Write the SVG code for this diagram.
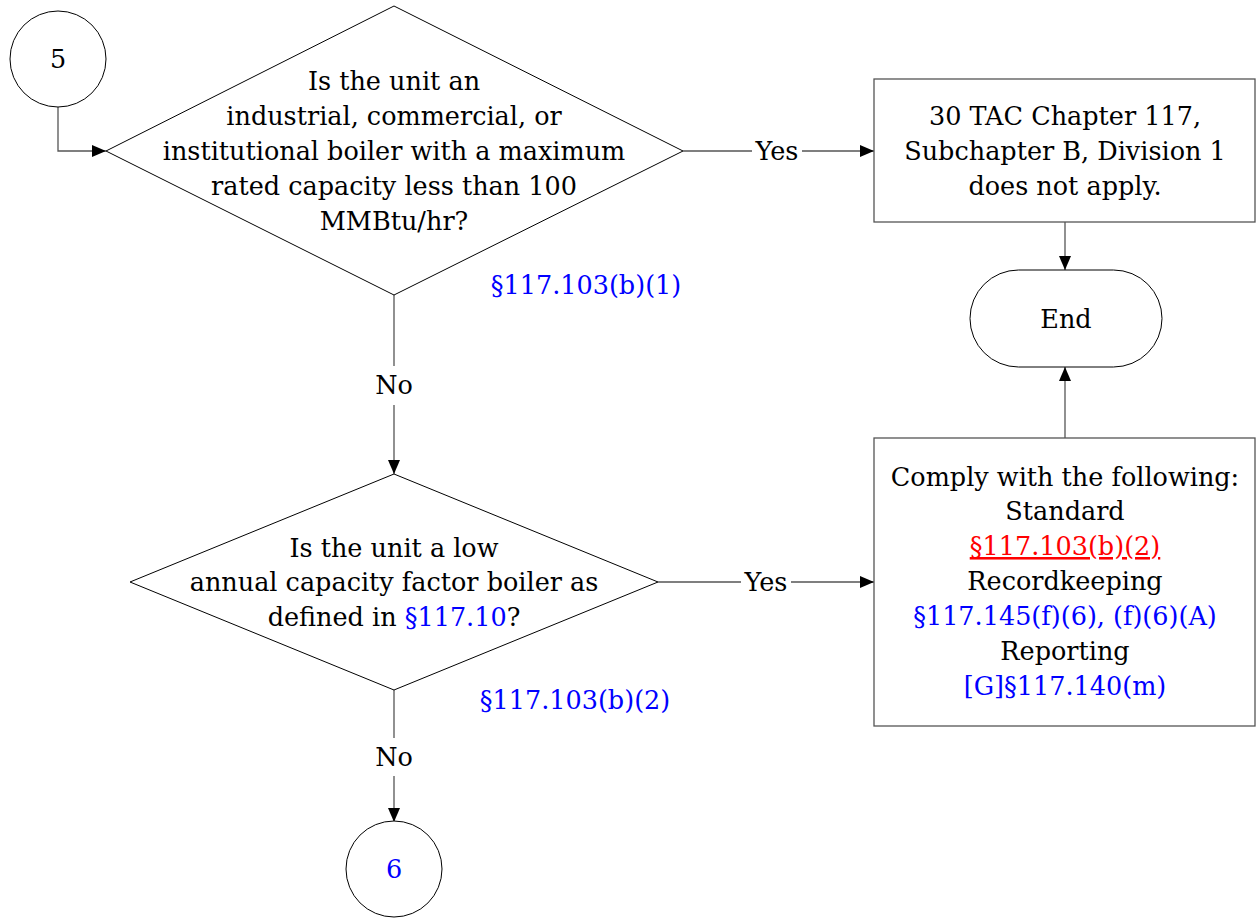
<svg xmlns="http://www.w3.org/2000/svg" width="1256" height="918" viewBox="0 0 1256 918">
<style>
.s{fill:#fff;stroke:#000;stroke-width:1}
.b{fill:#fff;stroke:#555;stroke-width:1.3}
.c{fill:none;stroke:#555;stroke-width:1.3}
text{font-family:"DejaVu Serif","Liberation Serif",serif;font-size:25.5px;fill:#000;text-anchor:middle}
.bl{fill:#0000ff}
.rd{fill:#ff0000;text-decoration:underline}
</style>
<defs>
<marker id="ah" markerWidth="14" markerHeight="12" refX="14" refY="6" orient="auto" markerUnits="userSpaceOnUse">
<path d="M0,0 L14,6 L0,12 Z" fill="#000"/>
</marker>
</defs>
<rect width="1256" height="918" fill="#fff"/>
<g id="connectors">
<path class="c" d="M58,107 V151 H106" marker-end="url(#ah)"/>
<path class="c" d="M683,151 H752"/>
<path class="c" d="M802,151 H874" marker-end="url(#ah)"/>
<path class="c" d="M1065,222 V270" marker-end="url(#ah)"/>
<path class="c" d="M1065,438 V367" marker-end="url(#ah)"/>
<path class="c" d="M394,295 V366"/>
<path class="c" d="M394,405 V474" marker-end="url(#ah)"/>
<path class="c" d="M658,582 H741"/>
<path class="c" d="M791,582 H874" marker-end="url(#ah)"/>
<path class="c" d="M394,690 V738"/>
<path class="c" d="M394,776 V822" marker-end="url(#ah)"/>
<text x="777" y="160">Yes</text>
<text x="766" y="591">Yes</text>
<text x="394" y="394">No</text>
<text x="394" y="766">No</text>
</g>
<g id="start5">
<circle class="s" cx="58" cy="59" r="48"/>
<text x="58" y="68">5</text>
</g>
<g id="decision1">
<polygon class="s" points="394,6 683,151 394,295 106,151"/>
<text x="394" y="90">Is the unit an</text>
<text x="394" y="125">industrial, commercial, or</text>
<text x="394" y="160">institutional boiler with a maximum</text>
<text x="394" y="195">rated capacity less than 100</text>
<text x="394" y="230">MMBtu/hr?</text>
<text class="bl" x="586" y="294">§117.103(b)(1)</text>
</g>
<g id="notapply">
<rect class="b" x="874" y="79" width="381" height="143"/>
<text x="1065" y="125">30 TAC Chapter 117,</text>
<text x="1065" y="160">Subchapter B, Division 1</text>
<text x="1065" y="195">does not apply.</text>
</g>
<g id="end">
<rect class="s" x="970" y="270" width="192" height="97" rx="48.5" ry="48.5"/>
<text x="1066" y="328">End</text>
</g>
<g id="decision2">
<polygon class="s" points="394,474 658,582 394,690 130,582"/>
<text x="394" y="557">Is the unit a low</text>
<text x="394" y="591">annual capacity factor boiler as</text>
<text x="394" y="626">defined in <tspan class="bl">§117.10</tspan>?</text>
<text class="bl" x="575" y="709">§117.103(b)(2)</text>
</g>
<g id="comply">
<rect class="b" x="874" y="438" width="381" height="288"/>
<text x="1065" y="486">Comply with the following:</text>
<text x="1065" y="520">Standard</text>
<text class="rd" x="1065" y="555">§117.103(b)(2)</text>
<text x="1065" y="590">Recordkeeping</text>
<text class="bl" x="1065" y="625">§117.145(f)(6), (f)(6)(A)</text>
<text x="1065" y="660">Reporting</text>
<text class="bl" x="1065" y="695">[G]§117.140(m)</text>
</g>
<g id="goto6">
<circle class="s" cx="394" cy="869" r="48"/>
<text class="bl" x="394" y="878">6</text>
</g>
</svg>
